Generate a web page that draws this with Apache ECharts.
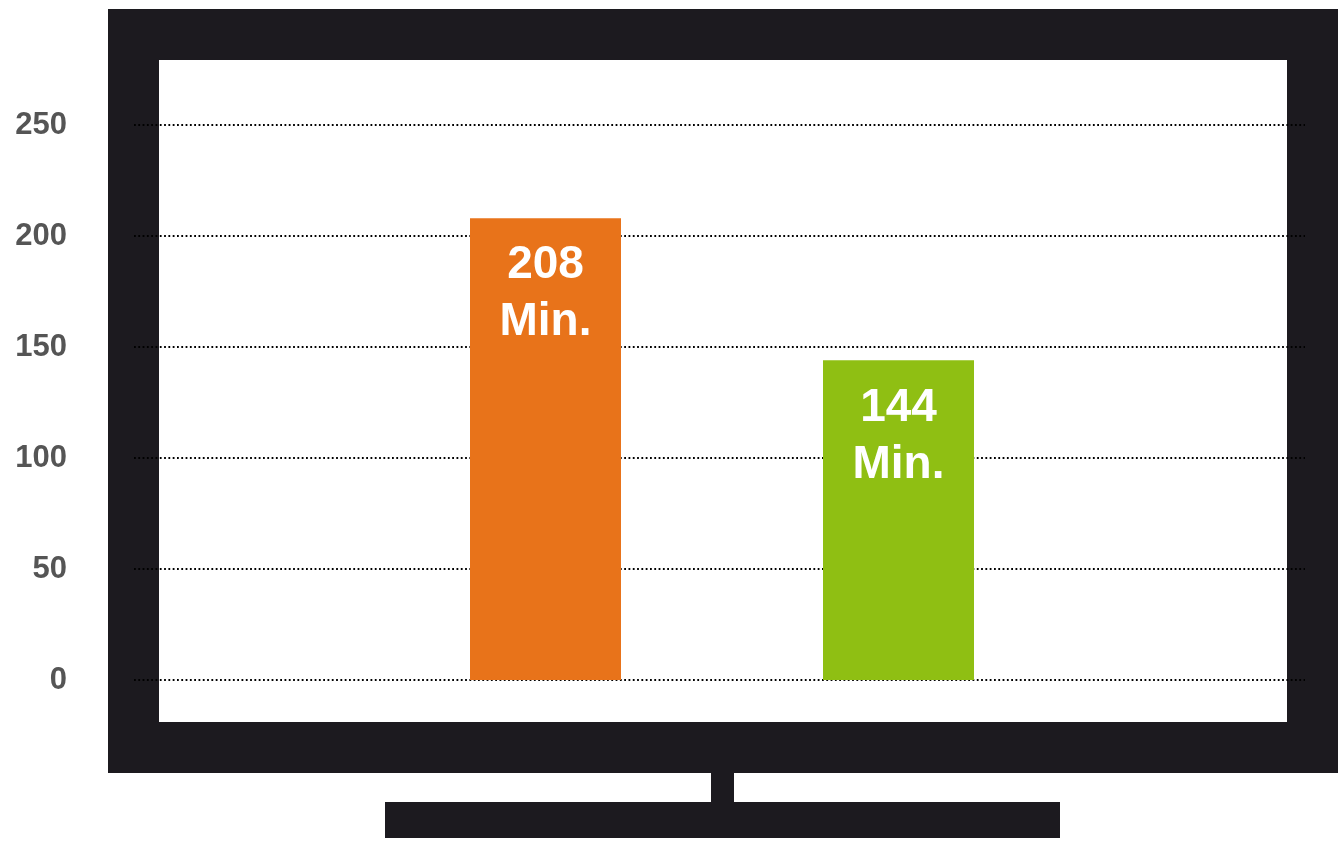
<!DOCTYPE html>
<html>
<head>
<meta charset="utf-8">
<script src="https://cdn.jsdelivr.net/npm/echarts@6/dist/echarts.min.js"></script>
<style>
html,body{margin:0;padding:0;background:#fff;}
#chart{width:1342px;height:841px;}
</style>
</head>
<body>
<div id="chart"></div>
<script>
var categories = ['A', 'B'];
var values = [208, 144];
var barColors = ['#e8731a', '#8fbf13'];
var labelUnit = 'Min.';
var yTicks = { min: 0, max: 250, interval: 50 };

var chart = echarts.init(document.getElementById('chart'));
var frameColor = '#1c1a1f';
var font = '"Liberation Sans", Arial, Helvetica, sans-serif';

var option = {
  animation: false,
  backgroundColor: '#ffffff',
  graphic: [
    { type: 'rect', z: -20, shape: { x: 108, y: 9, width: 1230, height: 764 }, style: { fill: frameColor } },
    { type: 'rect', z: -19, shape: { x: 159, y: 60, width: 1128, height: 662 }, style: { fill: '#ffffff' } },
    { type: 'rect', z: -20, shape: { x: 711, y: 772, width: 23, height: 31 }, style: { fill: frameColor } },
    { type: 'rect', z: -20, shape: { x: 385, y: 802, width: 675, height: 36 }, style: { fill: frameColor } }
  ],
  grid: [
    { left: 134, right: 37, top: 125, bottom: 161 },
    { left: 369, right: 267, top: 125, bottom: 161 }
  ],
  xAxis: [
    { type: 'category', gridIndex: 0, data: categories, show: false },
    { type: 'category', gridIndex: 1, data: categories, show: false }
  ],
  yAxis: [
    {
      type: 'value', gridIndex: 0, min: yTicks.min, max: yTicks.max, interval: yTicks.interval,
      axisLine: { show: false }, axisTick: { show: false },
      axisLabel: { margin: 67, color: '#555555', fontSize: 31, fontWeight: 'bold', fontFamily: font, padding: [4, 0, 0, 0] },
      splitLine: { show: true, lineStyle: { color: '#000000', width: 1.8, type: [1.8, 2.5] } }
    },
    {
      type: 'value', gridIndex: 1, min: yTicks.min, max: yTicks.max, interval: yTicks.interval,
      show: false, splitLine: { show: false }
    }
  ],
  series: [
    {
      type: 'bar', xAxisIndex: 1, yAxisIndex: 1,
      barWidth: 151,
      data: values.map(function (v, i) { return { value: v, itemStyle: { color: barColors[i] } }; }),
      label: {
        show: true, position: 'insideTop', distance: 19,
        color: '#ffffff', fontSize: 46, fontWeight: 'bold', fontFamily: font, lineHeight: 57,
        formatter: function (p) { return p.value + '\n' + labelUnit; }
      }
    }
  ]
};
chart.setOption(option);
</script>
</body>
</html>
